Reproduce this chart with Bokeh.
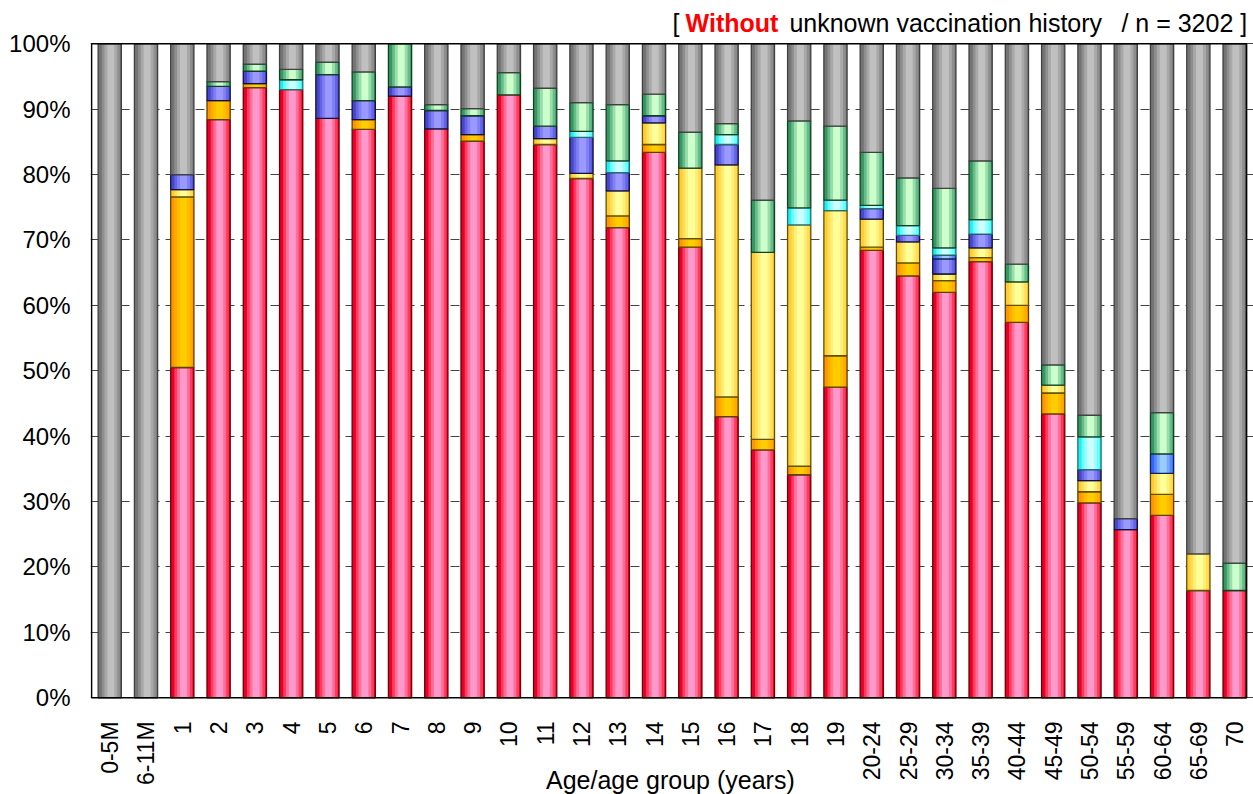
import math
import numpy as np
from bokeh.plotting import figure
from bokeh.models import ColumnDataSource, Range1d, FixedTicker, PrintfTickFormatter
from bokeh.core.properties import value
from bokeh.embed import file_html
from bokeh.resources import INLINE

# ---------------- data (percent of cases) ----------------
categories = ["0-5M", "6-11M", "1", "2", "3", "4", "5", "6", "7", "8", "9", "10",
              "11", "12", "13", "14", "15", "16", "17", "18", "19",
              "20-24", "25-29", "30-34", "35-39", "40-44", "45-49", "50-54",
              "55-59", "60-64", "65-69", "70"]

pink = [0, 0, 50.5, 88.4, 93.3, 93.0, 88.6, 86.9, 92.0, 87.0, 85.1, 92.2,
        84.6, 79.4, 71.9, 83.4, 68.9, 43.0, 37.9, 34.1, 47.5,
        68.4, 64.5, 62.0, 66.7, 57.4, 43.4, 29.8, 25.7, 27.9, 16.4, 16.4]
orange = [0, 0, 26.1, 2.9, 0.6, 0, 0, 1.5, 0, 0, 1.0, 0,
          0, 0, 1.8, 1.2, 1.3, 3.0, 1.6, 1.3, 4.8,
          0.5, 2.0, 1.8, 0.6, 2.6, 3.2, 1.7, 0, 3.2, 0, 0]
yellow = [0, 0, 1.1, 0, 0, 0, 0, 0, 0, 0, 0, 0,
          0.9, 0.8, 3.8, 3.3, 10.8, 35.5, 28.6, 36.9, 22.2,
          4.3, 3.2, 1.0, 1.5, 3.6, 1.2, 1.7, 0, 3.2, 5.6, 0]
blue = [0, 0, 2.3, 2.2, 1.9, 0, 6.7, 2.9, 1.4, 2.8, 2.9, 0,
        1.9, 5.5, 2.8, 1.1, 0, 3.1, 0, 0, 0,
        1.6, 1.0, 2.3, 2.1, 0, 0, 1.7, 1.7, 0, 0, 0]
lightblue = [0, 0, 0, 0, 0, 0, 0, 0, 0, 0, 0, 0,
             0, 0, 0, 0, 0, 0, 0, 0, 0,
             0, 0, 0.6, 0, 0, 0, 0, 0, 3.0, 0, 0]
cyan = [0, 0, 0, 0, 0, 1.5, 0, 0, 0, 0, 0, 0,
        0, 0.9, 1.8, 0, 0, 1.5, 0, 2.6, 1.6,
        0.5, 1.5, 1.1, 2.2, 0, 0, 5.0, 0, 0, 0, 0]
green = [0, 0, 0, 0.7, 1.1, 1.6, 1.9, 4.4, 6.6, 0.9, 1.1, 3.4,
         5.8, 4.4, 8.6, 3.3, 5.5, 1.7, 8.0, 13.3, 11.3,
         8.1, 7.3, 9.1, 9.0, 2.7, 3.1, 3.3, 0, 6.3, 0, 4.2]
gray = [100, 100, 20.0, 5.8, 3.1, 3.9, 2.8, 4.3, 0, 9.3, 9.9, 4.4,
        6.8, 9.0, 9.3, 7.7, 13.5, 12.2, 23.9, 11.8, 12.6,
        16.6, 20.5, 22.1, 17.9, 33.7, 49.1, 56.8, 72.6, 56.4, 78.0, 79.4]

series = [pink, orange, yellow, blue, lightblue, cyan, green, gray]
y_tick_values = list(range(0, 101, 10))

title_parts = ["[", "Without", "unknown vaccination history", "/ n = 3202 ]"]
x_title = "Age/age group (years)"

# ---------------- styles ----------------
palettes = [
    ["#e8002a", "#ff3a5c", "#ff6f98", "#ff99cc"],   # pink
    ["#ff9500", "#ffab00", "#ffbd00", "#ffcc00"],   # orange
    ["#ffcc33", "#ffdd55", "#ffee77", "#ffff99"],   # light yellow
    ["#4646c8", "#6464e4", "#8080f4", "#9999ff"],   # periwinkle
    ["#3366ff", "#5588ff", "#77aaff", "#99ccff"],   # light blue
    ["#22eeee", "#66ffff", "#99ffff", "#ccffff"],   # cyan
    ["#389663", "#66bb88", "#99ddaa", "#ccffcc"],   # green
    ["#747474", "#8e8e8e", "#a8a8a8", "#c0c0c0"],   # gray
]
outline_colors = ["#6a0000", "#604000", "#605000", "#101040", "#102050",
                  "#207070", "#104020", "#404040"]
layer_fracs = [1.0, 0.78, 0.55, 0.3]
BW = 0.64
FONT = "Liberation Sans"

X0, X1 = -0.03, 32.02
BORDER_R = 31.83
p = figure(width=1253, height=794, output_backend="svg", toolbar_location=None,
           x_range=Range1d(X0, X1), y_range=Range1d(-14.79, 106.62),
           min_border_left=90, min_border_right=0, min_border_top=0,
           min_border_bottom=0)

xs = np.arange(len(categories)) + 0.5
cum = np.zeros(len(categories))
for vals, pal, oc in zip(series, palettes, outline_colors):
    v = np.array(vals, dtype=float)
    bottoms = cum.copy()
    tops = cum + v
    cum = tops
    m = v > 0
    for frac, col in zip(layer_fracs, pal):
        off = 0.0 if frac == 1.0 else 0.05 * BW
        src_l = ColumnDataSource(dict(x=xs[m] + off, bottom=bottoms[m], top=tops[m]))
        p.vbar(x="x", bottom="bottom", top="top", width=BW * frac, source=src_l,
               fill_color=col, line_color=None)
    src = ColumnDataSource(dict(x=xs[m], bottom=bottoms[m], top=tops[m]))
    p.vbar(x="x", bottom="bottom", top="top", width=BW, source=src,
           fill_alpha=0, line_color=oc, line_width=1.3)

# plot-area border (0..100 %)
p.quad(left=[0.0], right=[BORDER_R], bottom=[0], top=[100], fill_color=None,
       line_color="#000000", line_width=1.5)

# ---------------- axes ----------------
p.xaxis.visible = False
p.xgrid.grid_line_color = None

p.yaxis.ticker = FixedTicker(ticks=y_tick_values)
p.yaxis.formatter = PrintfTickFormatter(format="%d%%")
p.yaxis.major_label_text_font = FONT
p.yaxis.major_label_text_font_size = "24px"
p.yaxis.major_label_text_color = "#000000"
p.yaxis.major_label_standoff = 20
p.yaxis.major_tick_out = 0
p.yaxis.major_tick_in = 0
p.yaxis.minor_tick_out = 0
p.yaxis.minor_tick_in = 0
p.yaxis.axis_line_color = None

p.ygrid.ticker = FixedTicker(ticks=y_tick_values)
p.ygrid.grid_line_color = "#444444"
p.ygrid.grid_line_dash = "9 6"
p.ygrid.grid_line_width = 1

p.outline_line_color = None
p.background_fill_color = "#ffffff"
p.border_fill_color = "#ffffff"

# category labels (rotated, below the 0 % line)
p.text(x=list(xs), y=[-3.62] * len(categories), text=categories, angle=math.pi / 2,
       text_align="right", text_baseline="middle", text_font=value(FONT),
       text_font_size="23px", text_color="#000000")

# x-axis title
p.text(x=[15.95], y=[-12.5], text=[x_title], text_align="center",
       text_baseline="alphabetic", text_font=value(FONT), text_font_size="25px",
       text_color="#000000")

# header text
ty = 103.2
p.text(x=[16.01, 19.23, 28.38], y=[ty] * 3,
       text=[title_parts[0], title_parts[2], title_parts[3]],
       text_align="left", text_baseline="alphabetic", text_font=value(FONT),
       text_font_size="25px", text_color="#000000")
p.text(x=[16.37], y=[ty], text=[title_parts[1]], text_align="left",
       text_baseline="alphabetic", text_font=value(FONT), text_font_size="25px",
       text_font_style="bold", text_color="#ff0000")

open("out.html", "w").write(file_html(p, INLINE))
